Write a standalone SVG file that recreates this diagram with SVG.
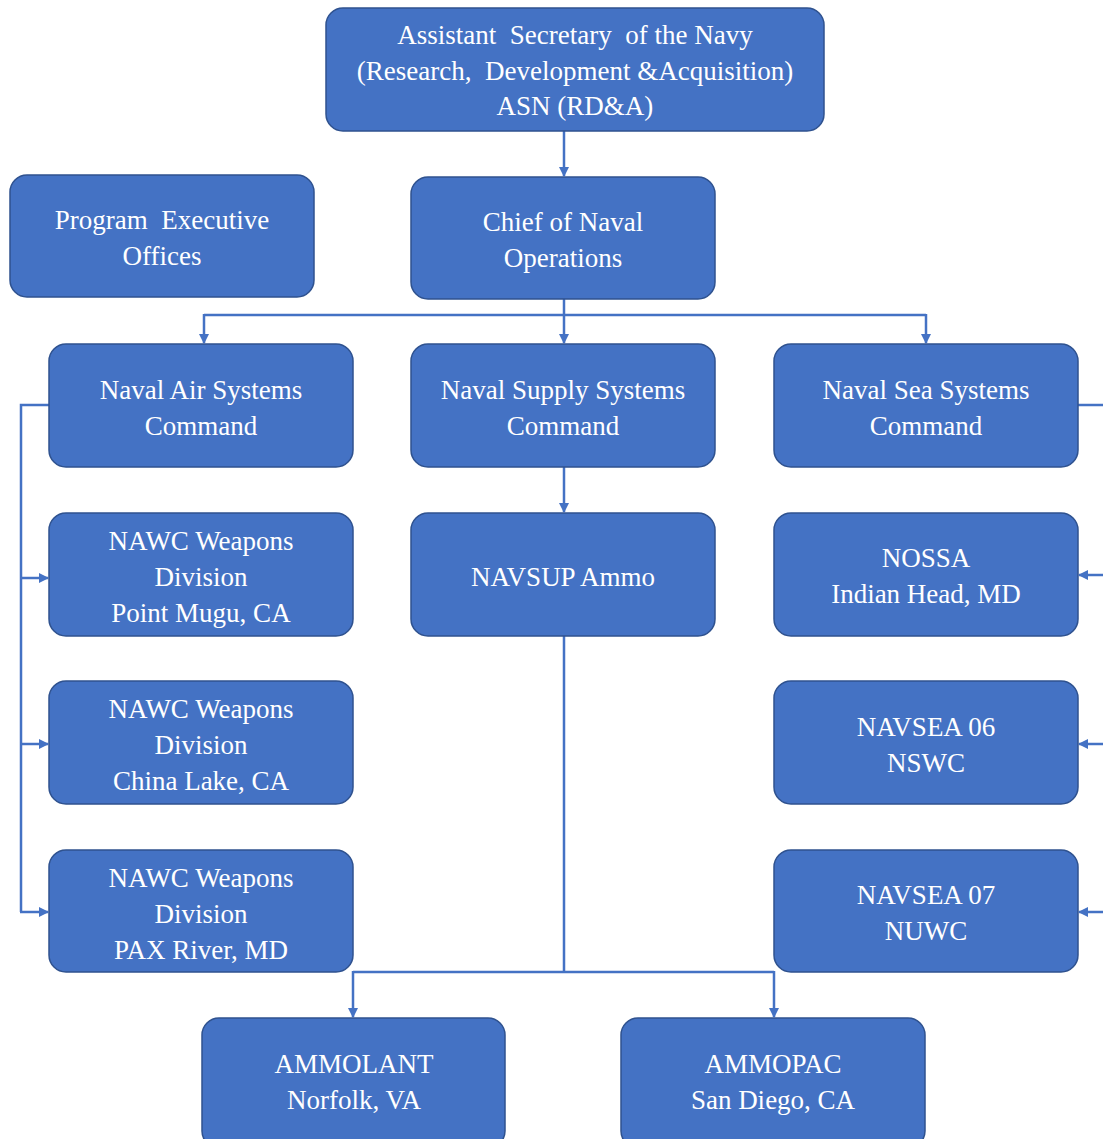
<svg xmlns="http://www.w3.org/2000/svg" width="1103" height="1139" viewBox="0 0 1103 1139">
<style>
.box{fill:#4472C4;stroke:#2F528F;stroke-width:1.5}
text{font-family:"Liberation Serif",serif;font-size:27px;fill:#ffffff;text-anchor:middle;white-space:pre}
.c{fill:none;stroke:#4472C4;stroke-width:2.5}
</style>
<defs>
<marker id="ah" markerWidth="10" markerHeight="10" refX="9" refY="5" orient="auto" markerUnits="userSpaceOnUse">
<path d="M0,0 L10,5 L0,10 Z" fill="#4472C4"/>
</marker>
</defs>
<rect width="1103" height="1139" fill="#ffffff"/>
<g id="connectors">
<path class="c" d="M564,131 V176" marker-end="url(#ah)"/>
<path class="c" d="M564,299 V343" marker-end="url(#ah)"/>
<path class="c" d="M204,315 H926"/>
<path class="c" d="M204,314 V343" marker-end="url(#ah)"/>
<path class="c" d="M926,314 V343" marker-end="url(#ah)"/>
<path class="c" d="M564,467 V512" marker-end="url(#ah)"/>
<path class="c" d="M564,636 V972"/>
<path class="c" d="M353,972 H774"/>
<path class="c" d="M353,971 V1017" marker-end="url(#ah)"/>
<path class="c" d="M774,971 V1017" marker-end="url(#ah)"/>
<path class="c" d="M49,405 H21 V912"/>
<path class="c" d="M20,578 H48" marker-end="url(#ah)"/>
<path class="c" d="M20,744 H48" marker-end="url(#ah)"/>
<path class="c" d="M20,912 H48" marker-end="url(#ah)"/>
<path class="c" d="M1078,405 H1103"/>
<path class="c" d="M1103,575 H1079" marker-end="url(#ah)"/>
<path class="c" d="M1103,744 H1079" marker-end="url(#ah)"/>
<path class="c" d="M1103,912 H1079" marker-end="url(#ah)"/>
</g>
<g font-family="Liberation Serif, serif" font-size="27" fill="#ffffff" text-anchor="middle">
<g id="asn"><rect class="box" x="326" y="8" width="498" height="123" rx="17"/>
<text x="575" y="44" xml:space="preserve">Assistant  Secretary  of the Navy</text>
<text x="575" y="80" xml:space="preserve">(Research,  Development &amp;Acquisition)</text>
<text x="575" y="115">ASN (RD&amp;A)</text></g>
<g id="peo"><rect class="box" x="10" y="175" width="304" height="122" rx="17"/>
<text x="162" y="229" xml:space="preserve">Program  Executive</text>
<text x="162" y="265">Offices</text></g>
<g id="cno"><rect class="box" x="411" y="177" width="304" height="122" rx="17"/>
<text x="563" y="231">Chief of Naval</text>
<text x="563" y="267">Operations</text></g>
<g id="navair"><rect class="box" x="49" y="344" width="304" height="123" rx="17"/>
<text x="201" y="399">Naval Air Systems</text>
<text x="201" y="435">Command</text></g>
<g id="navsup"><rect class="box" x="411" y="344" width="304" height="123" rx="17"/>
<text x="563" y="399">Naval Supply Systems</text>
<text x="563" y="435">Command</text></g>
<g id="navsea"><rect class="box" x="774" y="344" width="304" height="123" rx="17"/>
<text x="926" y="399">Naval Sea Systems</text>
<text x="926" y="435">Command</text></g>
<g id="nawc-mugu"><rect class="box" x="49" y="513" width="304" height="123" rx="17"/>
<text x="201" y="550">NAWC Weapons</text>
<text x="201" y="586">Division</text>
<text x="201" y="622">Point Mugu, CA</text></g>
<g id="navsup-ammo"><rect class="box" x="411" y="513" width="304" height="123" rx="17"/>
<text x="563" y="586">NAVSUP Ammo</text></g>
<g id="nossa"><rect class="box" x="774" y="513" width="304" height="123" rx="17"/>
<text x="926" y="567">NOSSA</text>
<text x="926" y="603">Indian Head, MD</text></g>
<g id="nawc-china"><rect class="box" x="49" y="681" width="304" height="123" rx="17"/>
<text x="201" y="718">NAWC Weapons</text>
<text x="201" y="754">Division</text>
<text x="201" y="790">China Lake, CA</text></g>
<g id="navsea06"><rect class="box" x="774" y="681" width="304" height="123" rx="17"/>
<text x="926" y="736">NAVSEA 06</text>
<text x="926" y="772">NSWC</text></g>
<g id="nawc-pax"><rect class="box" x="49" y="850" width="304" height="122" rx="17"/>
<text x="201" y="887">NAWC Weapons</text>
<text x="201" y="923">Division</text>
<text x="201" y="959">PAX River, MD</text></g>
<g id="navsea07"><rect class="box" x="774" y="850" width="304" height="122" rx="17"/>
<text x="926" y="904">NAVSEA 07</text>
<text x="926" y="940">NUWC</text></g>
<g id="ammolant"><rect class="box" x="202" y="1018" width="303" height="130" rx="17"/>
<text x="354" y="1073">AMMOLANT</text>
<text x="354" y="1109">Norfolk, VA</text></g>
<g id="ammopac"><rect class="box" x="621" y="1018" width="304" height="130" rx="17"/>
<text x="773" y="1073">AMMOPAC</text>
<text x="773" y="1109">San Diego, CA</text></g>
</g>
</svg>
